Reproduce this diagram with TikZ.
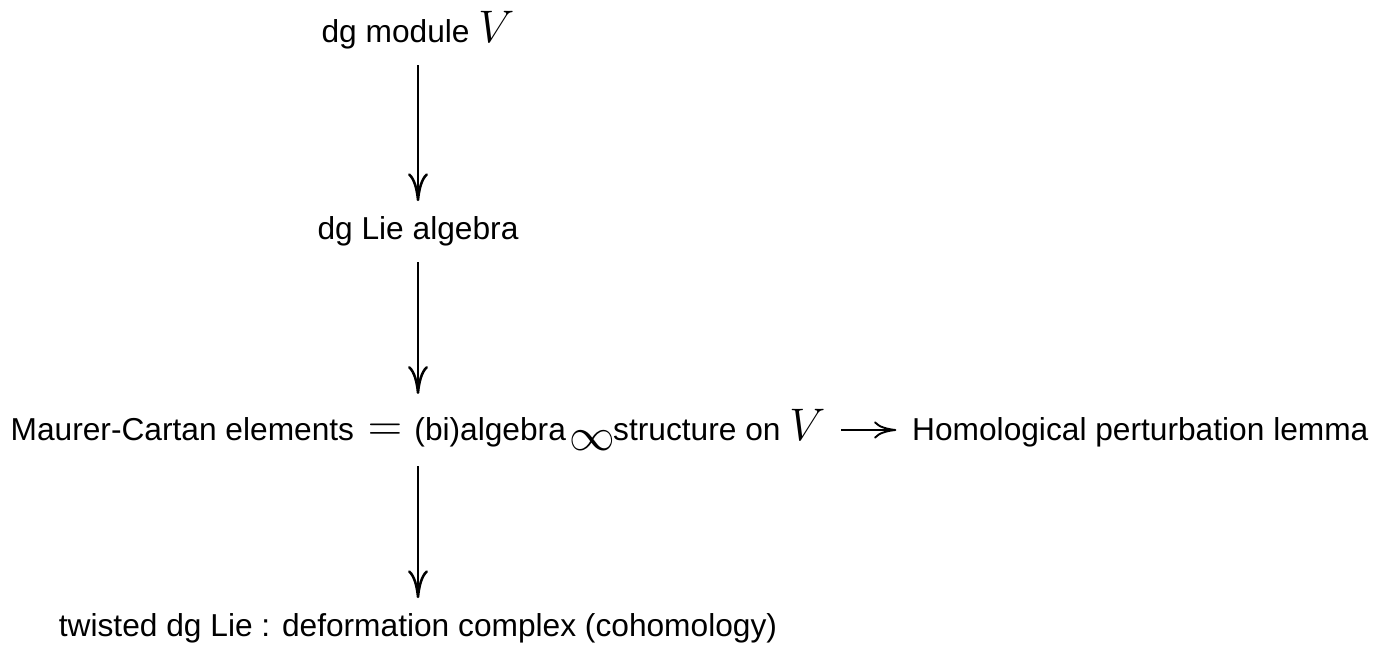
\documentclass[tikz,border=0pt]{standalone}
\usepackage[no-math]{fontspec}
\setmainfont{Liberation Sans}
\usetikzlibrary{arrows.meta, positioning}
\newcommand\mth[1]{{\fontsize{14.4}{17}\selectfont$#1$}}
\tikzset{
    % Text items
    item/.style={inner sep=0pt, outer sep=5pt, font=\fontsize{10}{12}\selectfont},
    % Connectors
    vflow/.style={-{Computer Modern Rightarrow[length=8.8pt, width=6.3pt]}, line width=0.8pt},
    hflow/.style={-{Computer Modern Rightarrow[length=7pt, width=5.4pt]}, line width=0.6pt}
}
\begin{document}
\begin{tikzpicture}[x=0.3155pt, y=-0.3155pt]
\useasboundingbox (0,0) rectangle (1388,650);

\node[item, anchor=base] (module) at (418,43) {dg module \mth{V}};
\node[item, anchor=base] (lie) at (418,240) {dg Lie algebra};
\node[item, anchor=base] (mc) at (418,441) {Maurer-Cartan elements\hspace{1.5pt} \mth{=}\hspace{1pt} (bi)algebra\hspace{1pt}\raisebox{-2.9pt}{\mth{\infty}}\hspace{-0.5pt}structure on \mth{V}};
\node[item, base right=17.4pt of mc] (hpl) {Homological perturbation lemma};
\node[item, anchor=base] (twist) at (418,637) {twisted dg Lie : deformation complex (cohomology)};

\draw[vflow] (module) -- (lie);
\draw[vflow] (lie) -- (mc);
\draw[vflow] (mc) -- (twist);
\draw[hflow] (mc.east) -- (mc.east -| hpl.west);

\end{tikzpicture}
\end{document}
